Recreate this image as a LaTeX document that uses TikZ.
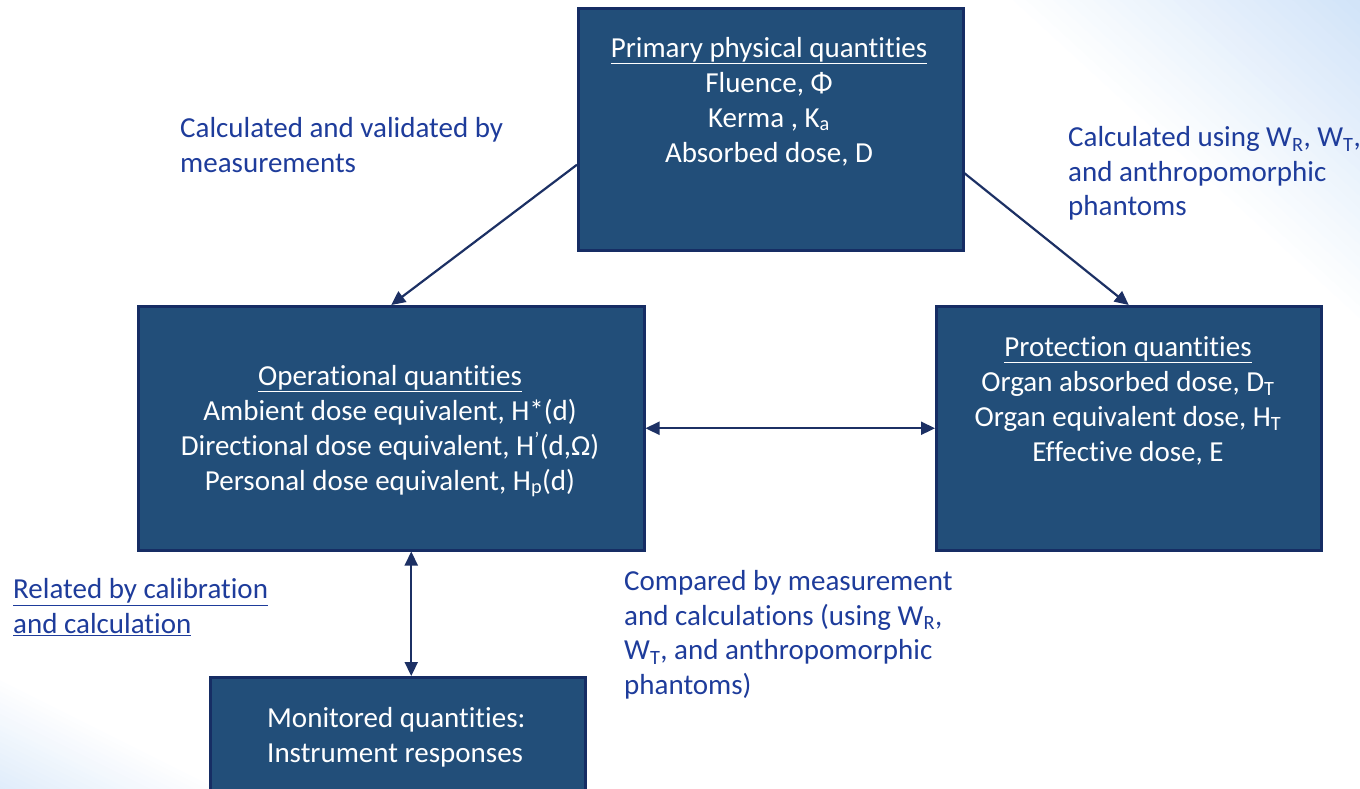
\documentclass[tikz,border=0pt]{standalone}
\usepackage{fontspec}
\setmainfont{Carlito}[Ligatures={NoCommon}]
\usetikzlibrary{arrows.meta,calc}
\definecolor{boxfill}{RGB}{34,78,121}
\definecolor{boxdraw}{RGB}{22,45,100}
\definecolor{arrowc}{RGB}{28,48,100}
\definecolor{labelc}{RGB}{30,60,155}
\definecolor{bgblue}{RGB}{208,227,248}
\begin{document}
\begin{tikzpicture}[x=1pt,y=-1pt,
  qbox/.style={draw=boxdraw, line width=2.5pt, fill=boxfill, inner sep=0pt, anchor=north west},
  boxtext/.style={text=white, align=center, font=\fontsize{29}{35}\selectfont, inner sep=0pt, anchor=north},
  lbl/.style={text=labelc, align=left, font=\fontsize{29}{34.5}\selectfont, inner sep=0pt, anchor=north west},
  conn/.style={draw=arrowc, line width=2.2pt, -{Triangle[length=14pt,width=13pt]}},
  dconn/.style={draw=arrowc, line width=2.2pt, {Triangle[length=14pt,width=13pt]}-{Triangle[length=14pt,width=13pt]}}]
\useasboundingbox (0,0) rectangle (1360,788);
\clip (0,0) rectangle (1360,788);
\fill[white] (0,0) rectangle (1360,788);
% background gradients
\foreach \i in {0,...,29}{
  \pgfmathsetmacro{\da}{\i*9}
  \pgfmathsetmacro{\db}{\i*9+10}
  \pgfmathsetmacro{\cc}{min(100,\i*100/27)}
  \fill[bgblue!\cc!white] ($(1000,0)+\da*(0.676,-0.737)+800*(0.737,0.676)$) -- ($(1000,0)+\da*(0.676,-0.737)-800*(0.737,0.676)$) -- ($(1000,0)+\db*(0.676,-0.737)-800*(0.737,0.676)$) -- ($(1000,0)+\db*(0.676,-0.737)+800*(0.737,0.676)$) -- cycle;
}
\foreach \i in {0,...,25}{
  \pgfmathsetmacro{\da}{\i*5}
  \pgfmathsetmacro{\db}{\i*5+6}
  \pgfmathsetmacro{\cc}{min(100,\i*80/24)}
  \fill[bgblue!\cc!white] ($(0,675)+\da*(-0.447,0.894)+800*(0.894,0.447)$) -- ($(0,675)+\da*(-0.447,0.894)-800*(0.894,0.447)$) -- ($(0,675)+\db*(-0.447,0.894)-800*(0.894,0.447)$) -- ($(0,675)+\db*(-0.447,0.894)+800*(0.894,0.447)$) -- cycle;
}
% boxes
\node[qbox, minimum width=385pt, minimum height=242pt] (prim) at (577,7) {};
\node[qbox, minimum width=506pt, minimum height=244pt] (oper) at (137,305) {};
\node[qbox, minimum width=385pt, minimum height=244pt] (prot) at (935,305) {};
\node[qbox, minimum width=375pt, minimum height=140pt] (mon) at (209,676) {};
% box texts
\node[boxtext] (primt) at (769,32.5) {\strut\underline{Primary physical quantities}\\ Fluence, Φ\\ Kerma , K\textsubscript{a}\\ Absorbed dose, D};
\node[boxtext] (opert) at (390,360.5) {\strut\underline{Operational quantities}\\ Ambient dose equivalent, H*(d)\\ Directional dose equivalent, H\textsuperscript{'}(d,Ω)\\ Personal dose equivalent, H\textsubscript{p}(d)};
\node[boxtext] (prott) at (1128,331.5) {\strut\underline{Protection quantities}\\ Organ absorbed dose, D\textsubscript{T}\\ Organ equivalent dose, H\textsubscript{T}\\ Effective dose, E};
\node[boxtext, align=left, anchor=north west] (mont) at (267,702.5) {\strut Monitored quantities:\\ Instrument responses};
% labels
\node[lbl] (l1) at (180,113.5) {\strut Calculated and validated by\\ measurements};
\node[lbl] (l2) at (1068,122.5) {\strut Calculated using W\textsubscript{R}, W\textsubscript{T},\\ and anthropomorphic\\ phantoms};
\node[lbl] (l3) at (13,574.5) {\strut\underline{Related by calibration}\\ \underline{and calculation}};
\node[lbl] (l4) at (624,566.5) {\strut Compared by measurement\\ and calculations (using W\textsubscript{R},\\ W\textsubscript{T}, and anthropomorphic\\ phantoms)};
% connectors
\draw[conn] ($(prim.north west)!0.645!(prim.south west)$) -- (oper.north);
\draw[conn] ($(prim.north east)!0.68!(prim.south east)$) -- (prot.north);
\draw[dconn] (oper.east) -- (prot.west);
\coordinate (vtop) at ($(oper.south)+(20,0)$);
\draw[dconn] (vtop) -- (vtop |- mon.north);
\end{tikzpicture}
\end{document}
